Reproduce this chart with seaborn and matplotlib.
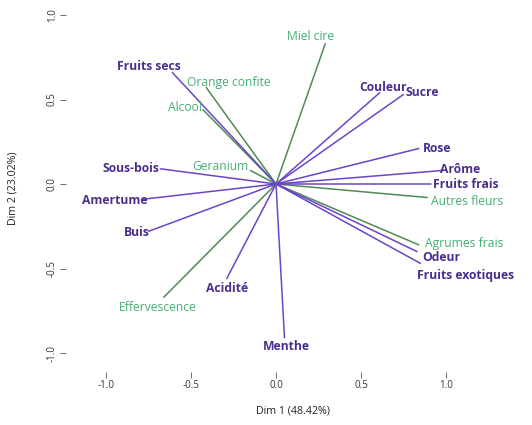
import matplotlib
matplotlib.use("Agg")
import matplotlib.pyplot as plt
import numpy as np
import pandas as pd
import seaborn as sns

# Variable coordinates on the first two PCA dimensions
variables = ["Miel cire", "Fruits secs", "Orange confite", "Alcool", "Geranium",
             "Sous-bois", "Amertume", "Buis", "Effervescence", "Acidité",
             "Menthe", "Couleur", "Sucre", "Rose", "Arôme", "Fruits frais",
             "Autres fleurs", "Agrumes frais", "Odeur", "Fruits exotiques"]
dim1 = [0.29, -0.61, -0.41, -0.43, -0.15, -0.68, -0.78, -0.75, -0.66, -0.29,
        0.05, 0.61, 0.75, 0.84, 0.98, 0.91, 0.89, 0.84, 0.83, 0.85]
dim2 = [0.83, 0.66, 0.57, 0.44, 0.08, 0.09, -0.09, -0.28, -0.67, -0.56,
        -0.91, 0.54, 0.53, 0.21, 0.08, 0.00, -0.08, -0.36, -0.40, -0.47]
group = ["sup", "act", "sup", "sup", "sup", "act", "act", "act", "sup", "act",
         "act", "act", "act", "act", "act", "act", "sup", "sup", "act", "act"]

x_ticks = [-1.0, -0.5, 0.0, 0.5, 1.0]
y_ticks = [-1.0, -0.5, 0.0, 0.5, 1.0]
x_title = "Dim 1 (48.42%)"
y_title = "Dim 2 (23.02%)"

# Label placement: offset of label centre from arrow tip, in pixels (right, up)
label_offset = {
    "Miel cire": (-15, 7), "Fruits secs": (-23, 6), "Orange confite": (23, 5),
    "Alcool": (-18, 2), "Geranium": (-30, 4), "Sous-bois": (-29, 0),
    "Amertume": (-29, -1), "Buis": (-12, -1), "Effervescence": (-6, -10),
    "Acidité": (0, -10), "Menthe": (2, -9), "Couleur": (3, 5),
    "Sucre": (19, 2), "Rose": (18, 0), "Arôme": (18, 1),
    "Fruits frais": (35, -1), "Autres fleurs": (40, -4),
    "Agrumes frais": (45, 1), "Odeur": (24, -6), "Fruits exotiques": (45, -12),
}

line_colors = {"act": "#6b45c9", "sup": "#4f8a55"}
text_colors = {"act": "#4a2e8e", "sup": "#45ad72"}

sns.set_theme(style="white")
plt.rcParams["font.family"] = ["Open Sans", "DejaVu Sans"]

# One segment per variable, from the origin to its tip
rows = []
for v, x, y, g in zip(variables, dim1, dim2, group):
    rows.append({"var": v, "x": 0.0, "y": 0.0, "grp": g, "step": 0})
    rows.append({"var": v, "x": x, "y": y, "grp": g, "step": 1})
segs = pd.DataFrame(rows)

dpi = 100
fig = plt.figure(figsize=(5.32, 4.25), dpi=dpi)
W, H = 532, 425
left_px, right_px, top_px, bottom_px = 66, 520, 5, 372
ax = fig.add_axes([left_px / W, 1 - bottom_px / H,
                   (right_px - left_px) / W, (bottom_px - top_px) / H])

sns.lineplot(data=segs, x="x", y="y", units="var", hue="grp", estimator=None,
             sort=False, palette=line_colors, linewidth=1.1, legend=False, ax=ax)

px2pt = 72 / dpi
for v, x, y, g in zip(variables, dim1, dim2, group):
    dx, dy = label_offset[v]
    ax.annotate(v, xy=(x, y), xytext=(dx * px2pt, dy * px2pt),
                textcoords="offset points", ha="center", va="center",
                fontsize=8.7, color=text_colors[g],
                fontweight="bold" if g == "act" else "normal")

# Axis limits chosen so that the origin lands at the centre of the star
ax.set_xlim((left_px - 276) / 170, (right_px - 276) / 170)
ax.set_ylim((184 - bottom_px) / 169, (184 - top_px) / 169)

for s in ax.spines.values():
    s.set_visible(False)
ax.set_xticks(x_ticks)
ax.set_yticks(y_ticks)
ax.set_xticklabels([f"{t:.1f}" for t in x_ticks])
ax.set_yticklabels([f"{t:.1f}" for t in y_ticks], rotation=90, va="center")
ax.tick_params(axis="both", direction="out", length=4, width=0.6,
               color="#555555", labelsize=7, labelcolor="#333333", pad=2,
               bottom=True, left=True)
ax.set_xlabel(x_title, fontsize=7.7, color="#222222", labelpad=10)
ax.set_ylabel(y_title, fontsize=7.7, color="#222222", labelpad=20)
ax.grid(False)

fig.savefig("out.png", dpi=dpi, facecolor="white")
